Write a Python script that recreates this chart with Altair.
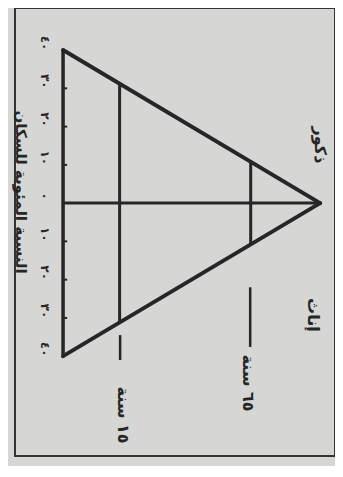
import altair as alt
import pandas as pd

# --- values (schematic population pyramid, drawn rotated) ---
# age-axis position (base = 0, apex = 100) and percentage of population (males +, females -)
seg_name = ["base", "males_edge", "females_edge", "centre", "age15", "age65"]
seg_x1 = [0, 0, 0, 0, 22, 73]
seg_y1 = [40, 40, -40, 0, 31.2, 10.8]
seg_x2 = [0, 100, 100, 100, 22, 73]
seg_y2 = [-40, 0, 0, 0, -31.2, -10.8]
seg_w = [3.5, 4, 4, 3, 3, 3]

leader_x = [22.2, 72.8]
leader_y1 = [-34.5, -22.0]
leader_y2 = [-41.0, -37.6]

tick_values = [40, 30, 20, 10, 0, -10, -20, -30, -40]
tick_labels = ["٤٠", "٣٠", "٢٠", "١٠", "٠", "١٠", "٢٠", "٣٠", "٤٠"]
tick_label_pos = -7

label_text = ["ذكور", "إناث", "٦٥ سنة", "١٥ سنة"]
label_x = [100, 97.3, 72, 23.3]
label_y = [15.2, -29.2, -47.0, -55.4]

axis_title = "النسبة المئوية للسكان"
axis_title_pos = (-16.4, 2.9)

INK = "#262626"
BG = "#d6d6d4"
FONT = "DejaVu Sans"

xs = alt.Scale(domain=[-18.7, 105.8], nice=False, zero=False)
ys = alt.Scale(domain=[-66.1, 51.0], nice=False, zero=False)

segs = pd.DataFrame({"name": seg_name, "x1": seg_x1, "y1": seg_y1,
                     "x2": seg_x2, "y2": seg_y2, "w": seg_w})
leaders = pd.DataFrame({"x": leader_x, "y1": leader_y1, "y2": leader_y2})
ticks = pd.DataFrame({"v": tick_values, "lab": tick_labels})
ticks["x"] = tick_label_pos
tick_marks = ticks[(ticks.v != 0) & (ticks.v.abs() < 40)].copy()
tick_marks["x0"] = 0
tick_marks["x1"] = 1.6
labels = pd.DataFrame({"t": label_text, "x": label_x, "y": label_y})
title_df = pd.DataFrame({"t": [axis_title], "x": [axis_title_pos[0]], "y": [axis_title_pos[1]]})

lines = alt.Chart(segs).mark_rule(color=INK, strokeCap="round").encode(
    x=alt.X("x1:Q", scale=xs, axis=None),
    y=alt.Y("y1:Q", scale=ys, axis=None),
    x2="x2:Q", y2="y2:Q",
    strokeWidth=alt.StrokeWidth("w:Q", scale=None, legend=None),
)

lead = alt.Chart(leaders).mark_rule(color=INK, strokeWidth=2.5).encode(
    x=alt.X("x:Q", scale=xs, axis=None),
    y=alt.Y("y1:Q", scale=ys, axis=None),
    y2="y2:Q",
)

tk = alt.Chart(tick_marks).mark_rule(color=INK, strokeWidth=2).encode(
    x=alt.X("x0:Q", scale=xs, axis=None),
    x2="x1:Q",
    y=alt.Y("v:Q", scale=ys, axis=None),
)

tick_text = alt.Chart(ticks).mark_text(
    angle=90, font=FONT, fontSize=12, fontWeight="bold", color=INK, yOffset=-7
).encode(
    x=alt.X("x:Q", scale=xs, axis=None),
    y=alt.Y("v:Q", scale=ys, axis=None),
    text="lab:N",
)

lab = alt.Chart(labels).mark_text(
    angle=90, font=FONT, fontSize=16, fontWeight="bold", color=INK
).encode(
    x=alt.X("x:Q", scale=xs, axis=None),
    y=alt.Y("y:Q", scale=ys, axis=None),
    text="t:N",
)

ttl = alt.Chart(title_df).mark_text(
    angle=90, font=FONT, fontSize=15, fontWeight="bold", color=INK
).encode(
    x=alt.X("x:Q", scale=xs, axis=None),
    y=alt.Y("y:Q", scale=ys, axis=None),
    text="t:N",
)

chart = alt.layer(lines, lead, tk, tick_text, lab, ttl).properties(
    width=320, height=448, background=BG, autosize="none",
    padding={"left": 7, "top": 0, "right": 0, "bottom": 10},
).configure_view(stroke="#333333", strokeWidth=2)

chart.save("out.html", embed_options={"renderer": "svg", "actions": False})
